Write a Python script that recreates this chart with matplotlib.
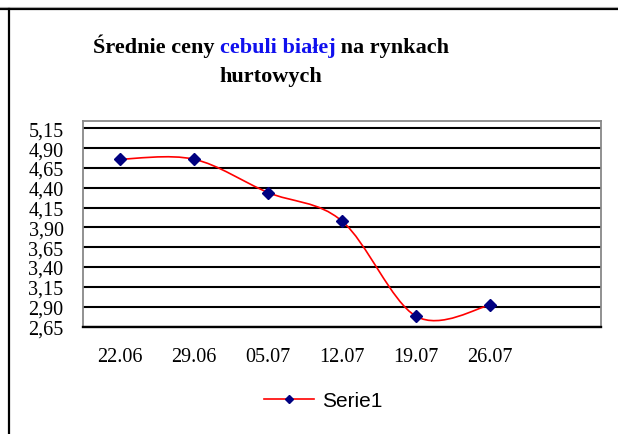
import matplotlib
matplotlib.use("Agg")
import matplotlib.pyplot as plt
from matplotlib.path import Path
from matplotlib.patches import PathPatch
from matplotlib.lines import Line2D

# Dane
daty = ["22.06", "29.06", "05.07", "12.07", "19.07", "26.07"]
ceny = [4.76, 4.76, 4.34, 3.98, 2.78, 2.92]
yticki = [2.65, 2.90, 3.15, 3.40, 3.65, 3.90, 4.15, 4.40, 4.65, 4.90, 5.15]

W, H, DPI = 618, 435, 100
fig = plt.figure(figsize=(W / DPI, H / DPI), dpi=DPI)

serif = "Liberation Serif"

# ramka obrazu (gorna i lewa krawedz)
fig.add_artist(Line2D([0, 1], [1 - 10 / H, 1 - 10 / H], color="black", lw=1.6,
                      transform=fig.transFigure))
fig.add_artist(Line2D([0, 1], [1 - 8 / H, 1 - 8 / H], color="#aaaaaa", lw=0.8,
                      transform=fig.transFigure))
fig.add_artist(Line2D([9 / W, 9 / W], [0, 1 - 10 / H], color="black", lw=1.6,
                      transform=fig.transFigure))

# obszar wykresu
left, right, top, bottom = 83, 601, 121.5, 327.5
ax = fig.add_axes([left / W, 1 - bottom / H, (right - left) / W, (bottom - top) / H])
ax.set_xlim(-0.5, 6.5)
ax.set_ylim(2.65, 5.15 + (129.3 - 121.5) / 79.2)

for v in yticki:
    ax.axhline(v, color="black", lw=1.5, zorder=1)

for s in ["left", "top", "right"]:
    ax.spines[s].set_color("#888888")
    ax.spines[s].set_linewidth(1.3)
ax.spines["bottom"].set_color("black")
ax.spines["bottom"].set_linewidth(1.7)

ax.set_yticks(yticki)
ax.set_yticklabels([f"{v:.2f}".replace(".", ",") for v in yticki],
                   fontfamily=serif, fontsize=14.5)
ax.set_xticks(range(len(daty)))
ax.set_xticklabels(daty, fontfamily=serif, fontsize=14.5)
ax.tick_params(axis="both", length=0)
ax.tick_params(axis="y", pad=14)
ax.tick_params(axis="x", pad=15)

# wygladzona linia (jak w Excelu, Catmull-Rom -> Bezier)
xs = list(range(len(ceny)))
pts = list(zip(xs, ceny))
verts = [pts[0]]
codes = [Path.MOVETO]
for i in range(len(pts) - 1):
    p0 = pts[i - 1] if i > 0 else pts[i]
    p1 = pts[i]
    p2 = pts[i + 1]
    p3 = pts[i + 2] if i + 2 < len(pts) else pts[i + 1]
    c1 = (p1[0] + (p2[0] - p0[0]) / 6, p1[1] + (p2[1] - p0[1]) / 6)
    c2 = (p2[0] - (p3[0] - p1[0]) / 6, p2[1] - (p3[1] - p1[1]) / 6)
    verts += [c1, c2, p2]
    codes += [Path.CURVE4] * 3
ax.add_patch(PathPatch(Path(verts, codes), facecolor="none", edgecolor="red",
                       lw=1.2, zorder=2))
ax.plot(xs, ceny, linestyle="none", marker="D", ms=6.6, color="#000080",
        markeredgecolor="#000080", zorder=3)

# tytul dwukolorowy
fig.canvas.draw()
r = fig.canvas.get_renderer()
tfs = 16
czesci = [("Średnie ceny ", "black"), ("cebuli białej", "#1010ee"), (" na rynkach", "black")]
teksty = []
for t, c in czesci:
    teksty.append(fig.text(0, 0, t, color=c, fontfamily=serif, fontweight="bold",
                           fontsize=tfs, va="baseline", ha="left"))
szer = [tx.get_window_extent(r).width for tx in teksty]
cx = 271
x0 = cx - sum(szer) / 2
for tx, w in zip(teksty, szer):
    tx.set_position((x0 / W, 1 - 53 / H))
    x0 += w
fig.text(cx / W, 1 - 82 / H, "hurtowych", fontfamily=serif, fontweight="bold",
         fontsize=tfs, va="baseline", ha="center")

# legenda
uchwyt = Line2D([], [], color="red", lw=1.2, marker="D", ms=4.2,
                markerfacecolor="#000080", markeredgecolor="#000080")
fig.legend([uchwyt], ["Serie1"], loc="center", bbox_to_anchor=(323 / W, 1 - 402 / H),
           frameon=False, prop={"family": "Liberation Sans", "size": 15},
           handlelength=2.4, handletextpad=0.4)

fig.savefig("out.png", dpi=DPI)
